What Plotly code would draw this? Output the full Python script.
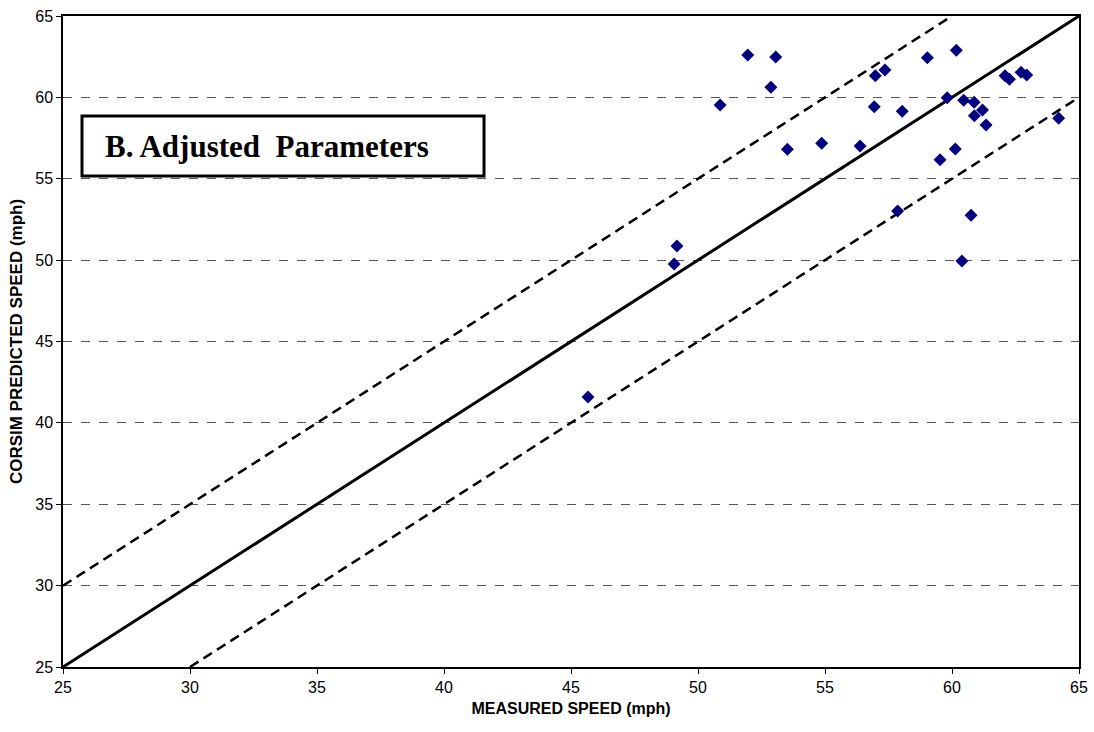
import plotly.graph_objects as go

measured = [51.96, 53.06, 50.87, 52.87, 53.52, 54.87, 56.38, 56.98, 57.36, 56.94,
            58.04, 59.03, 60.17, 59.81, 60.46, 60.87, 61.20, 60.88, 61.34, 62.09,
            62.26, 62.72, 62.94, 64.20, 59.53, 60.13, 57.86, 60.75, 60.39, 49.17,
            49.06, 45.67]
predicted = [62.60, 62.48, 59.53, 60.62, 56.81, 57.18, 57.01, 61.33, 61.68, 59.43,
             59.14, 62.44, 62.89, 59.98, 59.82, 59.70, 59.22, 58.87, 58.30, 61.33,
             61.11, 61.54, 61.37, 58.71, 56.17, 56.83, 53.02, 52.75, 49.95, 50.87,
             49.76, 41.59]

line_x = [25, 65]
equal_y = [25, 65]
upper_x = [25, 60]
upper_y = [30, 65]
lower_x = [30, 65]
lower_y = [25, 60]

fig = go.Figure()
fig.add_trace(go.Scatter(x=line_x, y=equal_y, mode="lines",
                         line=dict(color="black", width=3), hoverinfo="skip"))
fig.add_trace(go.Scatter(x=upper_x, y=upper_y, mode="lines",
                         line=dict(color="black", width=2.5, dash="10px,6px"), hoverinfo="skip"))
fig.add_trace(go.Scatter(x=lower_x, y=lower_y, mode="lines",
                         line=dict(color="black", width=2.5, dash="10px,6px"), hoverinfo="skip"))
fig.add_trace(go.Scatter(x=measured, y=predicted, mode="markers",
                         marker=dict(symbol="diamond", size=10, color="#000080",
                                     line=dict(width=0))))

# label box
fig.add_shape(type="rect", xref="paper", yref="paper",
              x0=0.0187, x1=0.4144, y0=0.7542, y1=0.8464,
              line=dict(color="black", width=3), fillcolor="white", layer="above")
fig.add_annotation(xref="paper", yref="paper", x=0.0394, y=0.8003,
                   xanchor="left", yanchor="middle",
                   text="<b>B. Adjusted\u00a0\u00a0Parameters</b>",
                   font=dict(family="Liberation Serif", size=31, color="black"),
                   showarrow=False)

axis_common = dict(range=[25, 65], dtick=5, showline=True, linecolor="black",
                   linewidth=1.5, mirror=True, ticks="outside", ticklen=5,
                   tickcolor="black", tickfont=dict(family="Arial", size=16, color="black"),
                   zeroline=False, automargin=False)

fig.update_layout(
    width=1094, height=732, showlegend=False,
    margin=dict(l=63, r=15, t=16, b=65),
    plot_bgcolor="white", paper_bgcolor="white",
    xaxis=dict(**axis_common, showgrid=False,
               title=dict(text="<b>MEASURED SPEED (mph)</b>",
                          font=dict(family="Arial", size=16, color="black"), standoff=8)),
    yaxis=dict(**axis_common, showgrid=True, gridcolor="#555555", gridwidth=1,
               griddash="dash",
               title=dict(text="<b>CORSIM PREDICTED SPEED (mph)</b>",
                          font=dict(family="Arial", size=17, color="black"), standoff=8)),
)

fig.write_html("out.html")
